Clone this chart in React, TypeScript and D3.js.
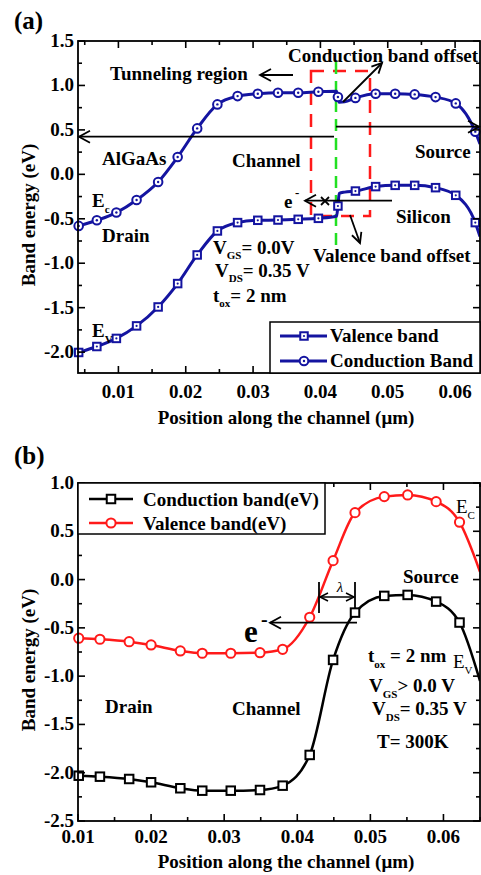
import React from 'react';
import * as d3 from 'd3';

const FONT = "'Liberation Serif', 'Times New Roman', Times, serif";

// ---------- Panel (a) data ----------
const posA = [0.0041, 0.0068, 0.0097, 0.0127, 0.0159, 0.0188, 0.0217, 0.0247, 0.0277, 0.0307, 0.0337, 0.0367, 0.0397, 0.0426, 0.0452, 0.0482, 0.0511, 0.054, 0.0571, 0.0601, 0.063];
const condA = [-0.58, -0.517, -0.43, -0.289, -0.086, 0.195, 0.517, 0.787, 0.88, 0.907, 0.918, 0.918, 0.929, 0.87, 0.86, 0.907, 0.907, 0.899, 0.869, 0.798, 0.48];
const valA = [-2.004, -1.937, -1.846, -1.705, -1.492, -1.229, -0.907, -0.637, -0.543, -0.517, -0.514, -0.506, -0.495, -0.356, -0.188, -0.138, -0.124, -0.124, -0.15, -0.236, -0.543];
// extra line vertices (band step at the heterojunction and right edge)
const jointPosA = [0.0424, 0.0428, 0.0436, 0.0637];
const condJointA = [0.935, 0.81, 0.815, 0.34];
const valJointA = [-0.472, -0.215, -0.2, -0.7];
const xTicksA = [0.01, 0.02, 0.03, 0.04, 0.05, 0.06];
const xMinorA = [0.005, 0.015, 0.025, 0.035, 0.045, 0.055];
const yTicksA = [-2.0, -1.5, -1.0, -0.5, 0.0, 0.5, 1.0, 1.5];
const yMinorA = [-1.75, -1.25, -0.75, -0.25, 0.25, 0.75, 1.25];

// ---------- Panel (b) data ----------
const posB = [0.0101, 0.013, 0.017, 0.02, 0.024, 0.027, 0.0309, 0.0349, 0.038, 0.0417, 0.0449, 0.0479, 0.0519, 0.0551, 0.059, 0.0622];
const valB = [-0.607, -0.618, -0.643, -0.677, -0.739, -0.763, -0.763, -0.757, -0.722, -0.39, 0.196, 0.693, 0.859, 0.876, 0.807, 0.594];
const condB = [-2.031, -2.041, -2.065, -2.099, -2.161, -2.186, -2.186, -2.179, -2.134, -1.816, -0.832, -0.342, -0.169, -0.159, -0.228, -0.445];
const endPosB = [0.065];
const valEndB = [0.08];
const condEndB = [-1.05];
const xTicksB = [0.01, 0.02, 0.03, 0.04, 0.05, 0.06];
const xMinorB = [0.015, 0.025, 0.035, 0.045, 0.055, 0.065];
const yTicksB = [-2.5, -2.0, -1.5, -1.0, -0.5, 0.0, 0.5, 1.0];
const yMinorB = [-2.25, -1.75, -1.25, -0.75, -0.25, 0.25, 0.75];

const BLUE = '#1414a0';
const RED = '#ff1a1a';

const fmtY = (v: number) => d3.format('.1f')(v).replace('\u2212', '-');
const fmtX = (v: number) => d3.format('.2f')(v);

const zip = (xs: number[], ys: number[]) => xs.map((x, i) => [x, ys[i]] as [number, number]);
const merged = (a: [number, number][], b: [number, number][]) => [...a, ...b].sort((p, q) => p[0] - q[0]);

function Arrow({ x1, y1, x2, y2, head = 11, spread = 6, sw = 1.8, color = '#000' }: any) {
  const a = Math.atan2(y2 - y1, x2 - x1);
  const bx = x2 - head * Math.cos(a);
  const by = y2 - head * Math.sin(a);
  const px = spread * Math.sin(a);
  const py = -spread * Math.cos(a);
  return (
    <g stroke={color} strokeWidth={sw} fill="none">
      <line x1={x1} y1={y1} x2={x2} y2={y2} />
      <polyline points={`${bx + px},${by + py} ${x2},${y2} ${bx - px},${by - py}`} />
    </g>
  );
}

function Frame({ x, y, xTicks, xMinor, yTicks, yMinor, xLabelY }: any) {
  const [x0, x1] = x.range();
  const [y0, y1] = y.range(); // y0 bottom, y1 top
  const M = 7, m = 4;
  return (
    <g>
      <rect x={x0} y={y1} width={x1 - x0} height={y0 - y1} fill="none" stroke="#000" strokeWidth={1.8} />
      <g stroke="#000" strokeWidth={1.6}>
        {xTicks.map((t: number) => (
          <g key={'xt' + t}>
            <line x1={x(t)} x2={x(t)} y1={y0} y2={y0 - M} />
            <line x1={x(t)} x2={x(t)} y1={y1} y2={y1 + M} />
          </g>
        ))}
        {xMinor.map((t: number) => (
          <g key={'xm' + t}>
            <line x1={x(t)} x2={x(t)} y1={y0} y2={y0 - m} />
            <line x1={x(t)} x2={x(t)} y1={y1} y2={y1 + m} />
          </g>
        ))}
        {yTicks.map((t: number) => (
          <g key={'yt' + t}>
            <line x1={x0} x2={x0 + M} y1={y(t)} y2={y(t)} />
            <line x1={x1} x2={x1 - M} y1={y(t)} y2={y(t)} />
          </g>
        ))}
        {yMinor.map((t: number) => (
          <g key={'ym' + t}>
            <line x1={x0} x2={x0 + m} y1={y(t)} y2={y(t)} />
            <line x1={x1} x2={x1 - m} y1={y(t)} y2={y(t)} />
          </g>
        ))}
      </g>
      <g fontFamily={FONT} fontWeight="bold" fontSize={19} fill="#000">
        {xTicks.map((t: number) => (
          <text key={'xl' + t} x={x(t)} y={xLabelY} textAnchor="middle">{fmtX(t)}</text>
        ))}
        {yTicks.map((t: number) => (
          <text key={'yl' + t} x={x0 - 4} y={y(t) + 6} textAnchor="end">{fmtY(t)}</text>
        ))}
      </g>
    </g>
  );
}

function Square({ cx, cy, s, color, dot }: any) {
  return (
    <g>
      <rect x={cx - s / 2} y={cy - s / 2} width={s} height={s} fill="#fff" stroke={color} strokeWidth={2} />
      {dot && <circle cx={cx} cy={cy} r={1.1} fill={color} />}
    </g>
  );
}
function Circ({ cx, cy, r, color, dot }: any) {
  return (
    <g>
      <circle cx={cx} cy={cy} r={r} fill="#fff" stroke={color} strokeWidth={2} />
      {dot && <circle cx={cx} cy={cy} r={1.2} fill={color} />}
    </g>
  );
}

function Sub({ x, y, main, sub, rest, size = 19, subSize = 11, weight = 'bold', drop = 6 }: any) {
  return (
    <text x={x} y={y} fontFamily={FONT} fontWeight={weight} fontSize={size} fill="#000">
      <tspan>{main}</tspan>
      <tspan dy={drop} fontSize={subSize}>{sub}</tspan>
      {rest !== undefined && <tspan dy={-drop}>{rest}</tspan>}
    </text>
  );
}

export default function App() {
  // scales
  const xA = d3.scaleLinear().domain([0.004, 0.0637]).range([78, 480]);
  const yA = d3.scaleLinear().domain([-2.235, 1.5]).range([373, 41]);
  const xB = d3.scaleLinear().domain([0.01, 0.065]).range([78, 480]);
  const yB = d3.scaleLinear().domain([-2.5, 1.0]).range([821, 483]);

  const lineA = d3.line<[number, number]>().x(d => xA(d[0])).y(d => yA(d[1])).curve(d3.curveMonotoneX);
  const lineB = d3.line<[number, number]>().x(d => xB(d[0])).y(d => yB(d[1])).curve(d3.curveMonotoneX);

  const condLineA = merged(zip(posA, condA), zip(jointPosA, condJointA));
  const valLineA = merged(zip(posA, valA), zip(jointPosA, valJointA));
  const valLineB = merged(zip(posB, valB), zip(endPosB, valEndB));
  const condLineB = merged(zip(posB, condB), zip(endPosB, condEndB));

  const T = (props: any) => (
    <text fontFamily={FONT} fontWeight="bold" fontSize={19} fill="#000" {...props} />
  );

  return (
    <svg width={481} height={875} style={{ position: 'absolute', left: 0, top: 0, background: '#fff' }}>
      <defs>
        <clipPath id="clipA"><rect x={78} y={41} width={402} height={332} /></clipPath>
        <clipPath id="clipB"><rect x={78} y={483} width={402} height={338} /></clipPath>
      </defs>

      {/* ================= Panel (a) ================= */}
      <text x={14} y={29} fontFamily={FONT} fontWeight="bold" fontSize={25}>(a)</text>

      {/* dashed guides */}
      <rect x={311} y={71} width={59} height={145} fill="none" stroke={RED} strokeWidth={2.5} strokeDasharray="13 9" />
      <line x1={336} x2={336} y1={62} y2={247} stroke="#22e022" strokeWidth={2.5} strokeDasharray="12 7" />

      <g clipPath="url(#clipA)">
        <path d={lineA(valLineA) || ''} fill="none" stroke={BLUE} strokeWidth={3} />
        <path d={lineA(condLineA) || ''} fill="none" stroke={BLUE} strokeWidth={3} />
      </g>
      {posA.map((p, i) => (
        <Square key={'sa' + i} cx={xA(p)} cy={yA(valA[i])} s={7.5} color={BLUE} dot />
      ))}
      {posA.map((p, i) => (
        <Circ key={'ca' + i} cx={xA(p)} cy={yA(condA[i])} r={4.3} color={BLUE} dot />
      ))}

      <Frame x={xA} y={yA} xTicks={xTicksA} xMinor={xMinorA} yTicks={yTicksA} yMinor={yMinorA} xLabelY={398} />

      {/* arrows (a) */}
      <Arrow x1={334} y1={136.7} x2={79} y2={136.7} />
      <Arrow x1={336} y1={126.7} x2={479} y2={126.7} />
      <Arrow x1={293} y1={75} x2={260} y2={75} />
      <Arrow x1={343} y1={102} x2={382} y2={63} head={10} spread={5} />
      <Arrow x1={350} y1={215} x2={360} y2={243} head={10} spread={5} />
      <Arrow x1={392} y1={200.7} x2={305} y2={200.7} />
      <g stroke="#000" strokeWidth={1.8}>
        <line x1={321} y1={197} x2={329} y2={205} />
        <line x1={321} y1={205} x2={329} y2={197} />
      </g>

      {/* texts (a) */}
      <T x={110} y={80}>Tunneling region</T>
      <T x={288} y={62}>Conduction band offset</T>
      <T x={102} y={165}>AlGaAs</T>
      <T x={232} y={167}>Channel</T>
      <T x={415} y={158}>Source</T>
      <Sub x={92} y={207} main="E" sub="c" />
      <T x={102} y={242}>Drain</T>
      <Sub x={92} y={337} main="E" sub="V" />
      <Sub x={213} y={254} main="V" sub="GS" rest="= 0.0V" drop={5} />
      <Sub x={215} y={277} main="V" sub="DS" rest="= 0.35 V" drop={5} />
      <Sub x={213} y={302} main="t" sub="ox" rest="= 2 nm" drop={5} />
      <T x={396} y={223}>Silicon</T>
      <T x={313} y={262}>Valence band offset</T>
      <T x={284} y={208}>e</T>
      <T x={295} y={197} fontSize={13}>-</T>

      {/* legend (a) */}
      <rect x={270} y={322} width={210} height={51} fill="#fff" stroke="#000" strokeWidth={1.5} />
      <line x1={280} x2={327} y1={336} y2={336} stroke={BLUE} strokeWidth={3} />
      <Square cx={304} cy={336} s={7.5} color={BLUE} dot />
      <T x={330} y={342}>Valence band</T>
      <line x1={280} x2={327} y1={361} y2={361} stroke={BLUE} strokeWidth={3} />
      <Circ cx={304} cy={361} r={4.3} color={BLUE} dot />
      <T x={330} y={367}>Conduction Band</T>

      {/* axis labels (a) */}
      <T x={286} y={424} textAnchor="middle">Position along the channel (μm)</T>
      <T transform="translate(35,215) rotate(-90)" textAnchor="middle">Band energy (eV)</T>

      {/* ================= Panel (b) ================= */}
      <text x={14} y={464} fontFamily={FONT} fontWeight="bold" fontSize={25}>(b)</text>

      <g clipPath="url(#clipB)">
        <path d={lineB(condLineB) || ''} fill="none" stroke="#000" strokeWidth={2.5} />
        <path d={lineB(valLineB) || ''} fill="none" stroke={RED} strokeWidth={2.5} />
      </g>
      {posB.map((p, i) => (
        <Square key={'sb' + i} cx={xB(p)} cy={yB(condB[i])} s={8.5} color="#000" />
      ))}
      {posB.map((p, i) => (
        <Circ key={'cb' + i} cx={xB(p)} cy={yB(valB[i])} r={4.6} color={RED} />
      ))}

      <Frame x={xB} y={yB} xTicks={xTicksB} xMinor={xMinorB} yTicks={yTicksB} yMinor={yMinorB} xLabelY={843} />

      {/* legend (b) */}
      <rect x={78} y={483} width={247} height={51} fill="#fff" stroke="#000" strokeWidth={1.5} />
      <line x1={89} x2={133} y1={499} y2={499} stroke="#000" strokeWidth={2.5} />
      <Square cx={111} cy={499} s={8.5} color="#000" />
      <T x={143} y={506}>Conduction band(eV)</T>
      <line x1={89} x2={133} y1={523} y2={523} stroke={RED} strokeWidth={2.5} />
      <Circ cx={111} cy={523} r={4.6} color={RED} />
      <T x={143} y={530}>Valence band(eV)</T>

      {/* lambda marker */}
      <g stroke="#000" strokeWidth={1.8}>
        <line x1={319} x2={319} y1={582} y2={613} />
        <line x1={355} x2={355} y1={582} y2={608} />
      </g>
      <Arrow x1={337} y1={597} x2={320} y2={597} head={8} spread={4} sw={1.5} />
      <Arrow x1={337} y1={597} x2={354} y2={597} head={8} spread={4} sw={1.5} />
      <text x={340} y={592} fontFamily={FONT} fontStyle="italic" fontSize={15} textAnchor="middle">λ</text>

      <Arrow x1={357} y1={622.7} x2={270} y2={622.7} />
      <text x={244} y={642} fontFamily={FONT} fontWeight="bold" fontSize={31}>e</text>
      <text x={261} y={626} fontFamily={FONT} fontWeight="bold" fontSize={20}>-</text>

      {/* texts (b) */}
      <Sub x={456} y={513} main="E" sub="C" weight="normal" />
      <T x={403} y={583}>Source</T>
      <Sub x={368} y={662} main="t" sub="ox" rest=" = 2 nm" />
      <Sub x={453} y={668} main="E" sub="V" weight="normal" />
      <Sub x={369} y={692} main="V" sub="GS" rest="> 0.0 V" />
      <Sub x={372} y={715} main="V" sub="DS" rest="= 0.35 V" />
      <T x={377} y={748}>T= 300K</T>
      <T x={105} y={713}>Drain</T>
      <T x={232} y={715}>Channel</T>

      {/* axis labels (b) */}
      <T x={286} y={868} textAnchor="middle">Position along the channel (μm)</T>
      <T transform="translate(35,660) rotate(-90)" textAnchor="middle">Band energy (eV)</T>
    </svg>
  );
}
